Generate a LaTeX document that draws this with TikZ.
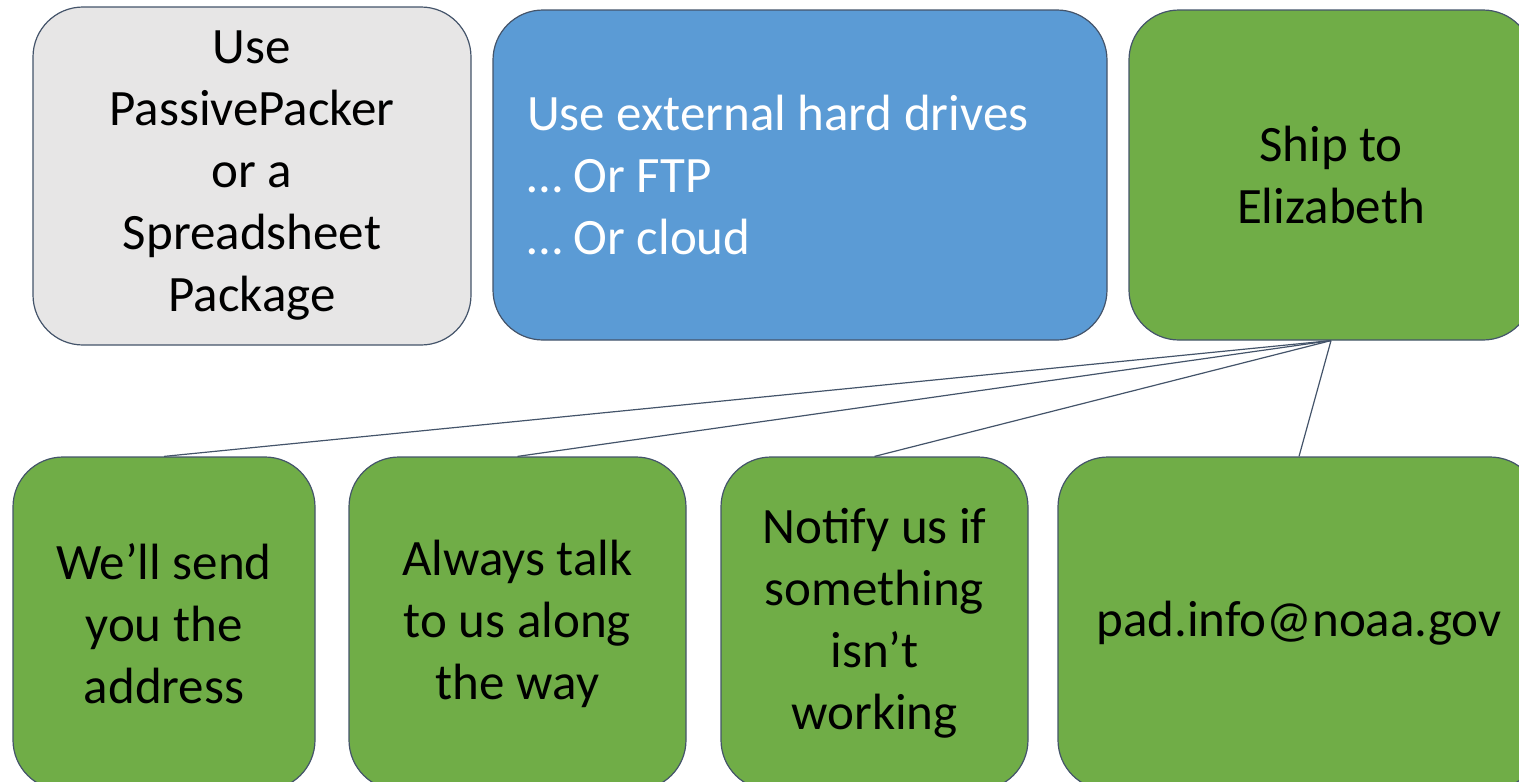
\documentclass[tikz,border=0pt]{standalone}
\usepackage{fontspec}
\setmainfont{Carlito}
\definecolor{bd}{HTML}{44546A}
\definecolor{gry}{HTML}{E7E6E6}
\definecolor{blu}{HTML}{5B9BD5}
\definecolor{grn}{HTML}{70AD47}
\begin{document}
\begin{tikzpicture}[x=1pt,y=-1pt,
  box/.style={draw=bd, line width=1.2pt, rounded corners=50pt, inner sep=0pt,
    font=\fontsize{51}{62}\selectfont},
  link/.style={draw=bd, line width=1.2pt}]
\useasboundingbox (0,0) rectangle (1519,782);
\clip (0,0) rectangle (1519,782);
\node[box, fill=gry, minimum width=438pt, minimum height=338pt, align=center] (pp) at (252,176)
  {Use\\PassivePacker\\or a\\Spreadsheet\\Package};
\node[box, fill=blu, text=white, minimum width=614pt, minimum height=330pt, text width=546pt, align=flush left] (hd) at (800,175)
  {Use external hard drives\\… Or FTP\\… Or cloud};
\node[box, fill=grn, minimum width=404pt, minimum height=330pt, align=center] (ship) at (1331,175)
  {Ship to\\Elizabeth};
\node[box, fill=grn, minimum width=302pt, minimum height=333pt, align=center] (b1) at (164,623.5)
  {We’ll send\\you the\\address};
\node[box, fill=grn, minimum width=337pt, minimum height=333pt, align=center] (b2) at (517.5,623.5)
  {Always talk\\to us along\\the way};
\node[box, fill=grn, minimum width=307pt, minimum height=333pt, align=center] (b3) at (874.5,623.5)
  {Notify us if\\something\\isn’t\\working};
\node[box, fill=grn, minimum width=482pt, minimum height=333pt, align=center] (b4) at (1299,623.5)
  {pad.info@noaa.gov};
\foreach \c in {b1,b2,b3,b4}
  \draw[link] (ship.south) -- (\c.north);
\end{tikzpicture}
\end{document}
